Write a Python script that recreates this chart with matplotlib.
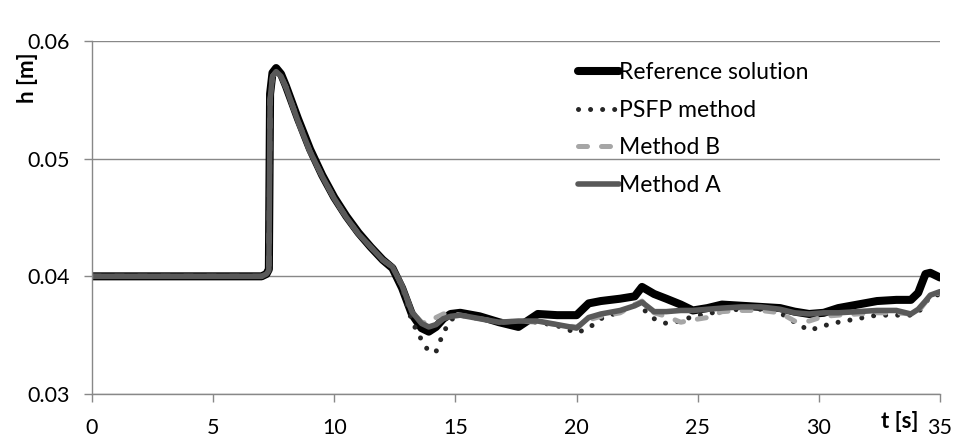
import matplotlib
matplotlib.use("Agg")
import matplotlib.pyplot as plt

plt.rcParams['font.family'] = ['Lato', 'DejaVu Sans']

# --- data ---
t = [0, 7.0, 7.2, 7.3, 7.35, 7.45, 7.6, 7.8, 8.0, 8.5, 9.0, 9.5, 10.0, 10.5,
     11.0, 11.5, 12.0, 12.4, 12.8, 13.2, 13.6, 13.9, 14.2, 14.5, 14.8, 15.2,
     16.0, 16.8, 17.6, 18.4, 19.2, 20.0, 20.5, 21.0, 21.8, 22.4, 22.7, 23.2,
     23.7, 24.3, 24.8, 25.4, 26.0, 26.8, 27.6, 28.4, 29.0, 29.6, 30.2, 30.8,
     31.6, 32.4, 33.2, 33.8, 34.1, 34.4, 34.6, 35.0]

h_ref = [.0400, .0400, .0402, .0406, .0555, .0573, .0577, .0572, .0562, .0534,
         .0508, .0486, .0467, .0451, .0437, .0425, .0414, .0407, .0390, .0368,
         .0356, .0353, .0357, .0364, .0368, .0369, .0366, .0361, .0357, .0368,
         .0367, .0367, .0377, .0379, .0381, .0383, .0391, .0385, .0381, .0376,
         .0371, .0373, .0376, .0375, .0374, .0373, .0370, .0368, .0369, .0373,
         .0376, .0379, .0380, .0380, .0386, .0402, .0403, .0399]

h_psfp = [.0400, .0400, .0402, .0405, .0550, .0570, .0574, .0570, .0561, .0532,
          .0506, .0485, .0466, .0450, .0436, .0425, .0414, .0408, .0390, .0362,
          .0346, .0336, .0336, .0352, .0363, .0367, .0364, .0361, .0362, .0361,
          .0358, .0352, .0356, .0364, .0370, .0376, .0373, .0364, .0360, .0362,
          .0366, .0368, .0371, .0372, .0372, .0369, .0361, .0354, .0358, .0361,
          .0364, .0367, .0367, .0367, .0369, .0378, .0382, .0385]

h_b = [.0400, .0400, .0402, .0405, .0550, .0570, .0574, .0570, .0561, .0532,
       .0506, .0485, .0466, .0450, .0436, .0425, .0414, .0408, .0392, .0370,
       .0361, .0360, .0365, .0368, .0369, .0367, .0364, .0361, .0362, .0361,
       .0359, .0357, .0363, .0366, .0369, .0376, .0379, .0369, .0366, .0361,
       .0363, .0365, .0370, .0371, .0371, .0369, .0362, .0362, .0366, .0367,
       .0368, .0369, .0369, .0368, .0370, .0378, .0384, .0386]

h_a = [.0400, .0400, .0402, .0405, .0550, .0570, .0574, .0570, .0561, .0532,
       .0506, .0485, .0466, .0450, .0436, .0425, .0414, .0408, .0392, .0370,
       .0360, .0357, .0359, .0364, .0366, .0367, .0364, .0361, .0362, .0362,
       .0359, .0356, .0365, .0368, .0371, .0375, .0378, .0370, .0370, .0371,
       .0371, .0372, .0373, .0374, .0374, .0372, .0369, .0368, .0369, .0369,
       .0370, .0371, .0371, .0368, .0372, .0379, .0384, .0387]

x_ticks = [0, 5, 10, 15, 20, 25, 30, 35]
y_ticks = [0.03, 0.04, 0.05, 0.06]
y_labels = ["0.03", "0.04", "0.05", "0.06"]

fig = plt.figure(figsize=(9.72, 4.47), dpi=100)
ax = fig.add_axes([92 / 972, 1 - 394 / 447, 848 / 972, 353 / 447])

ax.plot(t, h_ref, color="black", lw=5.8, solid_capstyle="round",
        solid_joinstyle="round", label="Reference solution")
ax.plot(t, h_psfp, color="#262626", lw=3.6, dashes=(0.01, 2.4),
        dash_capstyle="round", label="PSFP method")
ax.plot(t, h_b, color="#A6A6A6", lw=3.6, dashes=(1.8, 2.8),
        dash_capstyle="round", dash_joinstyle="round", label="Method B")
ax.plot(t, h_a, color="#595959", lw=4.0, solid_capstyle="round",
        solid_joinstyle="round", label="Method A")

ax.set_xlim(0, 35)
ax.set_ylim(0.03, 0.06)
ax.set_xticks(x_ticks)
ax.set_yticks(y_ticks)
ax.set_yticklabels(y_labels)
ax.yaxis.grid(True, color="#888888", lw=1.0)
ax.set_axisbelow(True)
for s in ["top", "right"]:
    ax.spines[s].set_visible(False)
for s in ["left", "bottom"]:
    ax.spines[s].set_color("#888888")
    ax.spines[s].set_linewidth(1.0)
ax.tick_params(direction="out", length=6, width=1.0, color="#888888",
               labelsize=15.5)
ax.tick_params(axis="x", pad=11)
ax.tick_params(axis="y", pad=10)

fig.text(27 / 972, 1 - 78 / 447, "h [m]", rotation=90, fontsize=16,
         fontweight="bold", ha="center", va="center")
fig.text(900 / 972, 1 - 421 / 447, "t [s]", fontsize=16,
         fontweight="bold", ha="center", va="center")

leg = fig.legend(loc="upper left", bbox_to_anchor=(567 / 972, 1 - 51 / 447),
                 frameon=False, fontsize=16.5, handlelength=1.75,
                 handletextpad=0.0, labelspacing=0.72, borderpad=0)

fig.savefig("out.png", dpi=100)
